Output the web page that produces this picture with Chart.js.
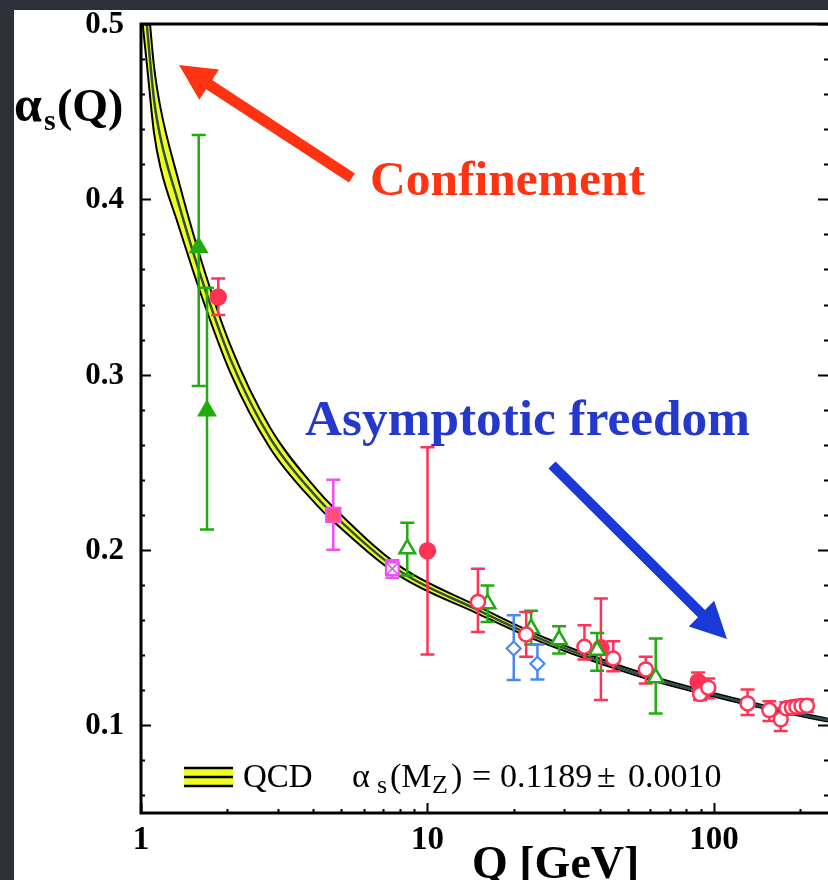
<!DOCTYPE html>
<html>
<head>
<meta charset="utf-8">
<style>
  html, body { margin: 0; padding: 0; background: #2e3139; }
  #wrap { width: 828px; height: 880px; }
</style>
<script src="https://cdn.jsdelivr.net/npm/chart.js@4.4.0/dist/chart.umd.min.js"></script>
</head>
<body>
<div id="wrap"><canvas id="c" width="828" height="880"></canvas></div>
<script>
const SERIF = '"Liberation Serif", "Times New Roman", serif';
const RED = '#ff3355', GREEN = '#22aa11', BLUE = '#4a88ee', MAGENTA = '#ee4fee';

// QCD band: centre line, upper and lower edge
const curveQ  = [1.0, 1.05, 1.11, 1.17, 1.34, 1.61, 2.05, 2.82, 4.11, 4.68, 8.0, 14.9, 23.4, 37.8, 63.2, 91.2, 145, 250];
const curveA  = [0.535, 0.498, 0.457, 0.435, 0.400, 0.357, 0.309, 0.264, 0.230, 0.2205, 0.188, 0.166, 0.151, 0.138, 0.126, 0.119, 0.111, 0.103];
const curveHi = [0.561, 0.520, 0.476, 0.452, 0.413, 0.367, 0.3168, 0.2698, 0.2344, 0.2245, 0.1908, 0.1681, 0.1527, 0.1394, 0.1272, 0.120, 0.1119, 0.1038];
const curveLo = [0.509, 0.476, 0.438, 0.418, 0.387, 0.347, 0.3012, 0.2582, 0.2256, 0.2165, 0.1852, 0.1639, 0.1493, 0.1366, 0.1248, 0.118, 0.1101, 0.1022];

// measurements (Q, alpha_s, error bar low / high)
const redOpenQ  = [15.0, 22.1, 35.3, 44.5, 57.8, 89.4, 95.5, 131, 156, 171, 179, 187, 194, 202, 211];
const redOpenA  = [0.1704, 0.1518, 0.1448, 0.1381, 0.1319, 0.1178, 0.1215, 0.1125, 0.1087, 0.1034, 0.1097, 0.1101, 0.1106, 0.1110, 0.1112];
const redOpenLo = [0.1533, 0.1391, 0.1376, 0.1309, 0.1239, 0.1144, 0.1154, 0.1059, 0.1025, 0.0968, 0.1062, 0.1066, 0.1071, 0.1075, 0.1077];
const redOpenHi = [0.1893, 0.1647, 0.1571, 0.1480, 0.1391, 0.1229, 0.1267, 0.1205, 0.1138, 0.1097, 0.1132, 0.1136, 0.1141, 0.1145, 0.1147];

const redFullQ  = [1.86, 10.0, 40.3, 88.0];
const redFullA  = [0.3443, 0.1996, 0.1443, 0.1249];
const redFullLo = [0.3340, 0.1404, 0.1144, 0.1201];
const redFullHi = [0.3549, 0.2586, 0.1723, 0.1302];

const greenFullQ  = [1.59, 1.70];
const greenFullA  = [0.3725, 0.2794];
const greenFullLo = [0.2935, 0.2117];
const greenFullHi = [0.4367, 0.3496];

const greenOpenQ  = [8.5, 16.2, 23.0, 28.8, 39.1, 62.6];
const greenOpenA  = [0.2007, 0.1694, 0.1552, 0.1488, 0.1428, 0.1271];
const greenOpenLo = [0.1855, 0.1590, 0.1461, 0.1410, 0.1311, 0.1068];
const greenOpenHi = [0.2155, 0.1798, 0.1653, 0.1565, 0.1527, 0.1495];

const blueQ  = [20.0, 24.2];
const blueA  = [0.1438, 0.1351];
const blueLo = [0.1258, 0.1262];
const blueHi = [0.1628, 0.1461];

const pinkSqQ = [4.69], pinkSqA = [0.220], pinkSqLo = [0.2001], pinkSqHi = [0.240];
const pinkXQ  = [7.54], pinkXA  = [0.1893], pinkXLo = [0.1842], pinkXHi = [0.1942];

const yTicks = [0.1, 0.2, 0.3, 0.4, 0.5];
const yTickLabels = ['0.1', '0.2', '0.3', '0.4', '0.5'];
const xTicks = [1, 10, 100];
const xTickLabels = ['1', '10', '100'];

const pts = (qs, as) => qs.map((q, i) => ({ x: q, y: as[i] }));

function curve(vals, extra) {
  return Object.assign({
    data: pts(curveQ, vals), showLine: true, pointRadius: 0,
    cubicInterpolationMode: 'monotone', borderColor: '#000', borderWidth: 2, fill: false
  }, extra);
}

function marks(qs, as, lo, hi, color, extra) {
  return Object.assign({
    data: pts(qs, as), showLine: false, pointRadius: 7, pointHoverRadius: 7,
    pointStyle: 'circle', borderColor: color, backgroundColor: '#fff', borderWidth: 2.5,
    err: { lo, hi, color }
  }, extra);
}

const datasets = [
  curve(curveHi, { fill: '+1', backgroundColor: '#f0ff22', order: 12 }),
  curve(curveLo, { order: 11 }),
  curve(curveA, { borderColor: '#2d4d50', borderWidth: 2.5, order: 10, isCentre: true }),
  marks(redFullQ, redFullA, redFullLo, redFullHi, RED, { backgroundColor: RED, pointRadius: 7.5, order: 5 }),
  marks(greenFullQ, greenFullA, greenFullLo, greenFullHi, GREEN, { pointStyle: 'triangle', backgroundColor: GREEN, pointRadius: 9, order: 4 }),
  marks(greenOpenQ, greenOpenA, greenOpenLo, greenOpenHi, GREEN, { pointStyle: 'triangle', pointRadius: 9, order: 3 }),
  marks(redOpenQ, redOpenA, redOpenLo, redOpenHi, RED, { order: 2 }),
  marks(blueQ, blueA, blueLo, blueHi, BLUE, { pointStyle: 'rectRot', pointRadius: 7, borderWidth: 2.2, order: 2 }),
  marks(pinkSqQ, pinkSqA, pinkSqLo, pinkSqHi, MAGENTA, { pointStyle: 'rect', pointRadius: 10, backgroundColor: '#ff4f72', borderWidth: 2.2, order: 2 }),
  marks(pinkXQ, pinkXA, pinkXLo, pinkXHi, MAGENTA, { pointStyle: 'rect', pointRadius: 9, borderWidth: 2.2, order: 2 }),
  { data: pts(pinkXQ, pinkXA), showLine: false, pointStyle: 'crossRot', pointRadius: 9, borderColor: MAGENTA, borderWidth: 1.6, order: 1 }
];

function drawErrors(chart) {
  const { ctx, scales: { x, y } } = chart;
  ctx.save();
  ctx.lineWidth = 2.5;
  chart.data.datasets.forEach(ds => {
    if (!ds.err) return;
    ctx.strokeStyle = ds.err.color;
    ds.data.forEach((p, i) => {
      const px = x.getPixelForValue(p.x);
      const y0 = y.getPixelForValue(ds.err.lo[i]), y1 = y.getPixelForValue(ds.err.hi[i]);
      ctx.beginPath();
      ctx.moveTo(px, y0); ctx.lineTo(px, y1);
      ctx.moveTo(px - 7, y0); ctx.lineTo(px + 7, y0);
      ctx.moveTo(px - 7, y1); ctx.lineTo(px + 7, y1);
      ctx.stroke();
    });
  });
  ctx.restore();
}

// pieces of text at given x positions: [text, x, fontPx, dy]
function placeText(ctx, yb, parts) {
  parts.forEach(([t, x, size, dy]) => {
    ctx.font = size + 'px ' + SERIF;
    ctx.fillText(t, x, yb + (dy || 0));
  });
}

// bold serif text stretched to a target width
function fitText(ctx, t, x, yb, w, color) {
  ctx.font = 'bold 48px ' + SERIF;
  const size = 48 * w / ctx.measureText(t).width;
  ctx.font = 'bold ' + size.toFixed(1) + 'px ' + SERIF;
  ctx.fillStyle = color;
  ctx.fillText(t, x, yb);
}

function arrow(ctx, x0, y0, x1, y1, shaft, head, color) {
  const dx = x1 - x0, dy = y1 - y0, len = Math.hypot(dx, dy);
  const ux = dx / len, uy = dy / len, nx = -uy, ny = ux;
  const bx = x1 - ux * head, by = y1 - uy * head;
  ctx.fillStyle = color;
  ctx.beginPath();
  ctx.moveTo(x0 + nx * shaft / 2, y0 + ny * shaft / 2);
  ctx.lineTo(bx + nx * shaft / 2, by + ny * shaft / 2);
  ctx.lineTo(bx + nx * head / 2, by + ny * head / 2);
  ctx.lineTo(x1, y1);
  ctx.lineTo(bx - nx * head / 2, by - ny * head / 2);
  ctx.lineTo(bx - nx * shaft / 2, by - ny * shaft / 2);
  ctx.lineTo(x0 - nx * shaft / 2, y0 - ny * shaft / 2);
  ctx.closePath();
  ctx.fill();
}

const decor = {
  id: 'decor',
  beforeDraw(chart) {
    const { ctx, width, height } = chart;
    ctx.save();
    ctx.fillStyle = '#2e3139';
    ctx.fillRect(0, 0, width, height);
    ctx.fillStyle = '#fff';
    ctx.fillRect(14, 10, width - 14, height - 10);
    ctx.restore();
  },
  afterDatasetDraw(chart, args) {
    if (chart.data.datasets[args.index].isCentre) drawErrors(chart);
  },
  afterDraw(chart) {
    const { ctx, chartArea: a, scales: { x, y } } = chart;
    ctx.save();
    ctx.strokeStyle = '#000';
    // inward tick marks
    ctx.lineWidth = 2;
    ctx.beginPath();
    for (let k = 3; k <= 25; k++) {
      const v = k * 0.02, yy = Math.round(y.getPixelForValue(v)) + 0.5;
      const len = (k % 5 === 0) ? 10 : 4;
      ctx.moveTo(a.left, yy); ctx.lineTo(a.left + len, yy);
      ctx.moveTo(a.right, yy); ctx.lineTo(a.right - len, yy);
    }
    for (let d = 1; d <= 100; d *= 10) {
      for (let m = 1; m <= 9; m++) {
        const v = m * d;
        if (v > x.max) break;
        const xx = Math.round(x.getPixelForValue(v)) + 0.5;
        const len = m === 1 ? 10 : 4;
        ctx.moveTo(xx, a.bottom); ctx.lineTo(xx, a.bottom - len);
      }
    }
    ctx.stroke();
    // frame
    ctx.lineWidth = 3;
    ctx.beginPath();
    ctx.moveTo(a.right + 2, a.top); ctx.lineTo(a.left, a.top);
    ctx.lineTo(a.left, a.bottom); ctx.lineTo(a.right + 2, a.bottom);
    ctx.stroke();

    // tick labels
    ctx.fillStyle = '#000';
    ctx.font = 'bold 31px ' + SERIF;
    ctx.textAlign = 'right';
    ctx.textBaseline = 'middle';
    yTicks.forEach((v, i) => ctx.fillText(yTickLabels[i], 124, y.getPixelForValue(v) + 1));
    ctx.font = 'bold 33px ' + SERIF;
    ctx.textAlign = 'center';
    ctx.textBaseline = 'alphabetic';
    xTicks.forEach((v, i) => ctx.fillText(xTickLabels[i], x.getPixelForValue(v), 849));

    // axis titles
    ctx.textAlign = 'left';
    ctx.font = 'bold 50px ' + SERIF;
    ctx.fillText('α', 14, 121);
    ctx.font = 'bold 30px ' + SERIF;
    ctx.fillText('s', 44, 130);
    ctx.font = 'bold 46px ' + SERIF;
    ctx.fillText('(Q)', 57, 121);
    ctx.fillText('Q [GeV]', 472, 878);

    // legend
    ctx.fillStyle = '#f0ff22';
    ctx.fillRect(184, 768, 49, 18);
    ctx.lineWidth = 2.5;
    ctx.beginPath();
    [768, 777, 786].forEach(yy => { ctx.moveTo(184, yy); ctx.lineTo(233, yy); });
    ctx.stroke();
    ctx.fillStyle = '#000';
    placeText(ctx, 787, [
      ['QCD', 243, 33],
      ['α', 352, 34], ['s', 377, 26, 6], ['(M', 390, 34], ['Z', 432, 26, 6], [')', 451, 34],
      ['=', 472, 34], ['0.1189', 500, 34], ['±', 597, 34], ['0.0010', 628, 34]
    ]);

    // annotations
    arrow(ctx, 352, 178, 179, 65, 11, 36, '#ff3311');
    arrow(ctx, 552, 465, 727, 639, 10, 36, '#1a3ad8');
    fitText(ctx, 'Confinement', 370, 195, 275, '#ff3311');
    fitText(ctx, 'Asymptotic freedom', 305, 435, 445, '#2438cc');
    ctx.restore();
  }
};

new Chart(document.getElementById('c'), {
  type: 'scatter',
  data: { datasets },
  plugins: [decor],
  options: {
    responsive: false,
    animation: false,
    layout: { autoPadding: false, padding: { top: 24, left: 0, right: 0, bottom: 0 } },
    plugins: { legend: { display: false }, tooltip: { enabled: false } },
    scales: {
      x: {
        type: 'logarithmic', min: 1, max: 250,
        afterFit: s => { s.height = 67; },
        grid: { display: false, drawTicks: false },
        border: { display: false },
        ticks: { display: false }
      },
      y: {
        min: 0.05, max: 0.5,
        afterFit: s => { s.width = 141; },
        grid: { display: false, drawTicks: false },
        border: { display: false },
        ticks: { display: false }
      }
    }
  }
});
</script>
</body>
</html>
